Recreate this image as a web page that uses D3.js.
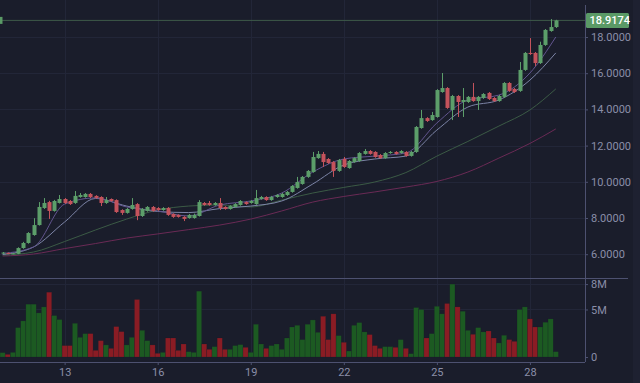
<!DOCTYPE html>
<html><head><meta charset="utf-8">
<script src="https://cdn.jsdelivr.net/npm/d3@7"></script>
<style>html,body{margin:0;padding:0;background:#1a1d2b;overflow:hidden}svg{display:block}</style>
</head><body>
<svg id="c" width="640" height="383"></svg>
<script>
// ---------- data ----------
const startDate = new Date(2021, 0, 11, 0, 0); // first 4h candle
const opens  = [6.04,6.07,6.02,6.02,6.34,6.62,7.06,7.61,8.55,8.88,8.39,8.83,9.05,8.94,8.83,9.16,9.16,9.33,9.22,9.16,8.83,9.05,8.99,8.44,8.28,8.50,8.77,8.11,8.39,8.61,8.55,8.44,8.55,8.22,8.17,8.06,8.00,8.00,8.11,8.83,8.83,8.72,8.83,8.61,8.50,8.61,8.72,8.88,8.83,8.77,9.05,9.16,8.99,9.16,9.16,9.27,9.44,9.66,9.88,10.27,10.54,11.31,11.54,11.26,11.09,10.60,11.26,10.76,11.09,11.15,11.54,11.70,11.65,11.48,11.31,11.59,11.65,11.59,11.65,11.43,11.65,12.97,13.52,13.41,13.58,14.96,15.18,13.97,14.74,14.41,14.41,14.69,14.46,14.63,14.91,14.63,14.46,14.69,15.46,15.13,15.02,16.18,17.12,17.12,16.56,17.56,18.33,18.55];
const highs  = [6.12,6.09,6.07,6.38,6.68,7.22,7.99,8.88,9.10,8.95,9.00,9.27,9.10,8.99,9.49,9.38,9.38,9.38,9.26,9.20,9.16,9.08,9.03,8.48,8.55,9.10,8.82,8.55,8.66,8.66,8.60,8.60,8.60,8.26,8.20,8.10,8.22,8.24,8.99,8.88,8.94,8.88,9.10,8.65,8.70,8.82,8.99,8.92,8.99,9.55,9.22,9.20,9.22,9.32,9.38,9.49,9.82,10.27,10.32,10.65,11.65,11.70,11.65,11.31,11.14,11.26,11.37,11.20,11.36,11.64,11.81,11.75,11.69,11.53,11.64,11.70,11.69,11.75,11.69,11.70,13.08,13.97,13.57,13.86,15.12,16.01,15.23,14.80,14.79,15.18,14.74,15.46,14.74,14.90,14.96,14.68,14.80,15.51,15.51,15.18,16.62,17.17,17.94,17.17,17.74,18.44,18.99,18.95];
const lows   = [6.01,6.00,6.00,6.00,6.30,6.58,7.02,7.58,8.50,7.95,8.35,8.80,8.78,8.72,8.78,9.12,9.12,9.10,9.06,8.66,8.78,8.90,8.28,8.17,8.24,8.46,7.88,8.06,8.35,8.35,8.40,8.40,8.12,8.01,8.02,7.83,7.96,7.96,8.08,8.68,8.68,8.68,8.44,8.46,8.46,8.57,8.68,8.73,8.79,8.73,9.01,8.95,8.95,9.12,9.12,9.22,9.40,9.62,9.84,10.22,10.50,11.27,10.82,10.99,10.27,10.55,10.77,10.72,11.05,11.10,11.50,11.50,11.33,11.27,11.27,11.55,11.50,11.55,11.39,11.39,11.60,12.93,13.31,13.37,13.54,14.92,14.03,13.41,13.58,13.58,14.36,14.42,13.97,14.58,14.52,14.42,14.42,14.64,14.97,14.91,14.97,16.13,17.01,16.40,16.51,17.51,18.29,18.50];
const closes = [6.09,6.01,6.05,6.34,6.62,7.17,7.61,8.61,8.83,8.39,8.94,9.05,8.83,8.77,9.22,9.27,9.33,9.16,9.11,8.83,8.99,8.94,8.33,8.28,8.50,8.72,8.11,8.50,8.61,8.39,8.44,8.55,8.17,8.06,8.06,7.95,8.17,8.17,8.88,8.72,8.72,8.83,8.55,8.50,8.66,8.77,8.94,8.77,8.94,9.10,9.16,8.99,9.16,9.27,9.33,9.44,9.77,9.99,10.27,10.60,11.37,11.54,11.09,11.04,10.60,11.20,10.82,11.15,11.31,11.59,11.70,11.54,11.37,11.31,11.59,11.65,11.54,11.70,11.43,11.65,13.03,13.52,13.36,13.69,15.07,15.18,14.08,14.74,14.41,14.52,14.69,14.46,14.69,14.85,14.57,14.46,14.74,15.46,15.02,14.96,16.18,17.12,17.06,16.56,17.56,18.39,18.55,18.9174];
const volumesM = [0.46,0.28,0.49,3.09,3.80,5.56,5.56,4.64,5.27,6.82,4.36,3.94,1.20,1.20,3.55,2.07,2.46,2.46,0.70,1.72,1.27,0.91,3.20,2.67,1.27,2.07,6.05,2.81,1.72,1.27,0.39,0.49,2.00,2.00,0.70,1.37,0.56,0.49,6.93,1.37,0.81,1.09,2.00,0.81,0.81,1.20,1.30,1.02,0.49,3.45,1.37,0.91,1.20,1.37,0.81,2.00,3.16,3.34,1.83,3.45,3.90,2.60,4.29,1.83,4.54,2.25,1.55,0.63,3.34,3.62,2.64,2.36,1.20,0.91,1.09,1.09,1.02,1.83,0.91,0.35,5.20,4.99,2.00,2.46,5.34,4.54,5.63,7.67,5.27,4.82,2.81,2.39,3.09,2.64,2.74,2.00,1.48,2.29,1.83,1.65,4.99,5.27,4.01,3.16,3.16,3.66,4.01,0.56];

// moving averages at candle indices
const maIndex    = [0,6,12,18,24,30,36,42,48,54,60,66,72,78,84,90,96,102,107];
const maFast     = [6.04,6.40,8.77,9.11,8.61,8.39,8.11,8.72,8.94,9.38,10.54,11.26,11.42,11.59,13.25,14.52,14.79,16.01,18.00];
const maMid      = [5.98,6.40,7.78,9.08,8.66,8.36,8.30,8.52,8.66,8.94,9.88,10.93,11.26,11.42,12.86,14.13,14.52,15.62,17.12];
const maSlow     = [5.95,6.12,6.70,7.34,7.94,8.44,8.66,8.72,8.61,8.99,9.38,9.69,9.99,10.51,11.42,12.23,13.08,13.97,15.13];
const maLong     = [5.90,6.01,6.31,6.59,6.89,7.12,7.36,7.61,7.94,8.39,8.88,9.19,9.44,9.71,10.02,10.54,11.31,12.12,12.92];

const priceTicks = [6,8,10,12,14,16,18];
const dayTicks = [13,16,19,22,25,28];
const volTicksM = [0,5,7.67];
const lastPrice = 18.9174;

// ---------- layout ----------
const W = 640, H = 383;
const axisX = 585;
const priceTop = 0, priceBottom = 278;
const volTop = 280, volBottom = 357;
const xAxisY = 362;

const colors = {
  bg:'#1a1d2b', grid:'#222638', axis:'#4d5170', text:'#8a8ea8',
  up:'#5c9e6a', down:'#c4535c', volUp:'#1c5a22', volDown:'#8a1c24',
  maFast:'#62558f', maMid:'#7c84a6', maSlow:'#3b5a45', maLong:'#6a2a55',
  last:'#3e5a49', lastBox:'#5a9a66'
};

const hour = 3600*1000;
const times = closes.map((_, i) => new Date(startDate.getTime() + i*4*hour));
const endDate = new Date(startDate.getTime() + 18*24*hour);

const svg = d3.select('#c');
svg.append('rect').attr('width',W).attr('height',H).attr('fill',colors.bg);
svg.append('rect').attr('x',633).attr('y',0).attr('width',7).attr('height',H).attr('fill','#1e2131');

const x = d3.scaleTime().domain([startDate, endDate]).range([2.6, 2.6 + 18*31.02]);
const y = d3.scaleLinear().domain([4.685, 20.044]).range([priceBottom, priceTop]);
const yv = d3.scaleLinear().domain([0, 8.1]).range([volBottom, volBottom - 8.1*9.506]);

const slot = 5.17;
const font = 'Roboto, "Noto Sans", sans-serif';

// grid
const g = svg.append('g');
g.selectAll('.hg').data(priceTicks).join('line')
  .attr('x1',0).attr('x2',axisX).attr('y1',d=>Math.round(y(d))+0.5).attr('y2',d=>Math.round(y(d))+0.5)
  .attr('stroke',colors.grid).attr('stroke-width',1);
g.selectAll('.vg').data(dayTicks).join('line')
  .attr('x1',d=>Math.round(x(new Date(2021,0,d)))+0.5).attr('x2',d=>Math.round(x(new Date(2021,0,d)))+0.5)
  .attr('y1',0).attr('y2',volBottom)
  .attr('stroke',colors.grid).attr('stroke-width',1);
g.selectAll('.vhg').data(volTicksM.slice(1)).join('line')
  .attr('x1',0).attr('x2',axisX).attr('y1',d=>Math.round(yv(d))+0.5).attr('y2',d=>Math.round(yv(d))+0.5)
  .attr('stroke',colors.grid).attr('stroke-width',1);

// volume bars
svg.append('g').selectAll('rect').data(volumesM).join('rect')
  .attr('x',(d,i)=>x(times[i]) - slot/2)
  .attr('width',slot)
  .attr('y',d=>yv(d))
  .attr('height',d=>volBottom - yv(d))
  .attr('fill',(d,i)=> closes[i] >= opens[i] ? colors.volUp : colors.volDown)
  .attr('stroke',colors.bg).attr('stroke-width',0.4).attr('stroke-opacity',0.5);

// MA lines
const maLine = d3.line().x(d=>x(times[d[0]])).y(d=>y(d[1])).curve(d3.curveMonotoneX);
[[maLong,colors.maLong],[maSlow,colors.maSlow],[maMid,colors.maMid],[maFast,colors.maFast]].forEach(([arr,c])=>{
  svg.append('path').datum(maIndex.map((k,j)=>[k,arr[j]]))
    .attr('d',maLine).attr('fill','none').attr('stroke',c).attr('stroke-width',1);
});

// last price line
svg.append('line').attr('x1',0).attr('x2',axisX).attr('y1',y(lastPrice)).attr('y2',y(lastPrice))
  .attr('stroke',colors.last).attr('stroke-width',1);
svg.append('rect').attr('x',-3).attr('y',y(lastPrice)-3.5).attr('width',5.5).attr('height',7).attr('fill',colors.lastBox);

// candles
const cg = svg.append('g');
closes.forEach((c,i)=>{
  const o = opens[i], up = c >= o;
  const cx = Math.round(x(times[i])) + 0.5;
  const col = up ? colors.up : colors.down;
  cg.append('line').attr('x1',cx).attr('x2',cx).attr('y1',y(highs[i])).attr('y2',y(lows[i]))
    .attr('stroke',col).attr('stroke-width',1);
  const top = y(Math.max(o,c)), bot = y(Math.min(o,c));
  cg.append('rect').attr('x',cx-2).attr('width',4)
    .attr('y',top).attr('height',Math.max(1,bot-top)).attr('fill',col);
});

// price axis
const pa = svg.append('g').attr('transform',`translate(${axisX},0)`)
  .call(d3.axisRight(y).tickValues(priceTicks).tickSize(3).tickPadding(3).tickFormat(d3.format('.4f')));
pa.select('.domain').attr('stroke',colors.axis).attr('d',`M0.5,5V${priceBottom}`);
pa.selectAll('.tick line').attr('stroke',colors.axis);
pa.selectAll('.tick text').attr('fill',colors.text).attr('font-size',11).attr('font-family',font);

// volume axis
const va = svg.append('g').attr('transform',`translate(${axisX},0)`)
  .call(d3.axisRight(yv).tickValues(volTicksM).tickSize(3).tickPadding(3)
    .tickFormat(d=> d===0 ? '0' : Math.round(d)+'M'));
va.select('.domain').attr('stroke',colors.axis).attr('d',`M0.5,${priceBottom}V${xAxisY}`);
va.selectAll('.tick line').attr('stroke',colors.axis);
va.selectAll('.tick text').attr('fill',colors.text).attr('font-size',11).attr('font-family',font);

// pane separator
svg.append('line').attr('x1',0).attr('x2',628).attr('y1',278.5).attr('y2',278.5).attr('stroke',colors.axis).attr('stroke-width',1.2);

// x axis
const xa = svg.append('g').attr('transform',`translate(0,${xAxisY})`)
  .call(d3.axisBottom(x).tickValues(dayTicks.map(d=>new Date(2021,0,d))).tickSize(3).tickPadding(3)
    .tickFormat(d3.timeFormat('%-d')));
xa.select('.domain').attr('stroke',colors.axis).attr('d',`M0,0.5H${axisX}`);
xa.selectAll('.tick line').attr('stroke',colors.axis);
xa.selectAll('.tick text').attr('fill',colors.text).attr('font-size',11).attr('font-family',font);

// last price label
const ly = y(lastPrice);
svg.append('rect').attr('x',axisX+1).attr('y',ly-7.5).attr('width',43).attr('height',15).attr('rx',1.5).attr('fill',colors.lastBox);
svg.append('text').attr('x',axisX+4.5).attr('y',ly+4).text(d3.format('.4f')(lastPrice))
  .attr('fill','#ffffff').attr('font-size',11).attr('font-family',font).attr('font-weight',500);
</script>
</body></html>
